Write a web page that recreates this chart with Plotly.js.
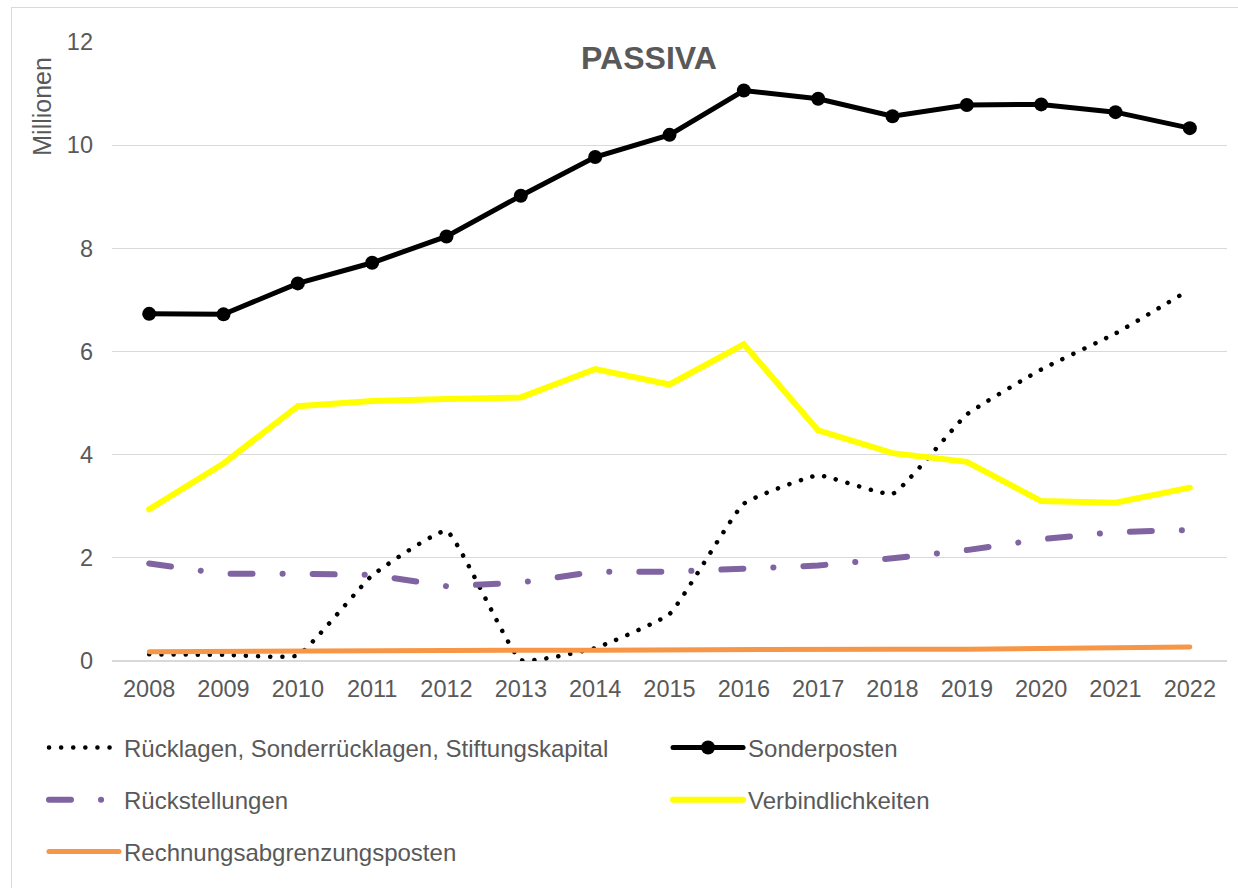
<!DOCTYPE html>
<html>
<head>
<meta charset="utf-8">
<script src="https://cdn.plot.ly/plotly-3.0.1.min.js"></script>
<style>
  html, body { margin: 0; padding: 0; background: #fff; overflow: hidden; }
  #wrap { position: relative; width: 1238px; height: 888px; }
  #frame { position: absolute; left: 11px; top: 7px; width: 1400px; height: 1000px;
           border-left: 1px solid #d9d9d9; border-top: 1px solid #d9d9d9; }
  #chart { position: absolute; left: 0; top: 0; width: 1238px; height: 888px; }
  .js-line { stroke-linecap: round; }
</style>
</head>
<body>
<div id="wrap"><div id="frame"></div><div id="chart"></div></div>
<script>
const years = ['2008','2009','2010','2011','2012','2013','2014','2015','2016','2017','2018','2019','2020','2021','2022'];
const seriesNames = ['Rücklagen, Sonderrücklagen, Stiftungskapital','Sonderposten','Rückstellungen','Verbindlichkeiten','Rechnungsabgrenzungsposten'];
const ruecklagen = [0.13, 0.12, 0.11, 1.66, 2.52, 0.02, 0.25, 0.91, 3.05, 3.60, 3.24, 4.78, 5.65, 6.35, 7.20];
const sonderposten = [6.73, 6.72, 7.32, 7.72, 8.23, 9.02, 9.77, 10.20, 11.06, 10.90, 10.56, 10.78, 10.79, 10.64, 10.33];
const rueckstellungen = [1.89, 1.69, 1.69, 1.67, 1.45, 1.52, 1.73, 1.73, 1.79, 1.85, 1.99, 2.15, 2.36, 2.50, 2.54];
const verbindlichkeiten = [2.94, 3.83, 4.94, 5.04, 5.08, 5.11, 5.66, 5.36, 6.14, 4.47, 4.03, 3.86, 3.10, 3.07, 3.36];
const rap = [0.18, 0.19, 0.19, 0.20, 0.20, 0.21, 0.21, 0.22, 0.22, 0.23, 0.23, 0.23, 0.24, 0.25, 0.27];
const yTicks = [0, 2, 4, 6, 8, 10, 12];

const FONT = '"Liberation Sans", Arial, sans-serif';
const GREY = '#595959';

const traces = [
  {x: years, y: ruecklagen, name: seriesNames[0], type: 'scatter', mode: 'lines', legend: 'legend',
   line: {color: '#000000', width: 4.5, dash: '0.1px,12px', shape: 'spline', smoothing: 0.35}},
  {x: years, y: sonderposten, name: seriesNames[1], type: 'scatter', mode: 'lines+markers', legend: 'legend2',
   line: {color: '#000000', width: 5}, marker: {color: '#000000', size: 14}},
  {x: years, y: rueckstellungen, name: seriesNames[2], type: 'scatter', mode: 'lines', legend: 'legend3',
   line: {color: '#8064A2', width: 6, dash: '22px,30px,0.1px,30px'}},
  {x: years, y: verbindlichkeiten, name: seriesNames[3], type: 'scatter', mode: 'lines', legend: 'legend4',
   line: {color: '#FFFF00', width: 6}},
  {x: years, y: rap, name: seriesNames[4], type: 'scatter', mode: 'lines', legend: 'legend5',
   line: {color: '#F79646', width: 5}}
];

const legendBase = {
  orientation: 'h', xanchor: 'left', yanchor: 'middle',
  font: {family: FONT, size: 24, color: GREY},
  bgcolor: 'rgba(0,0,0,0)', itemwidth: 70,
  itemclick: false, itemdoubleclick: false
};
const col1 = -0.061, col2 = 0.4987;
const row1 = -0.1405, row2 = -0.2246, row3 = -0.3086;

const layout = {
  width: 1238, height: 888,
  margin: {l: 112, r: 11, t: 42, b: 227},
  paper_bgcolor: 'rgba(0,0,0,0)', plot_bgcolor: 'rgba(0,0,0,0)',
  font: {family: FONT, color: GREY},
  title: {text: '<b>PASSIVA</b>', font: {family: FONT, size: 32, color: GREY},
          x: 0.4816, xanchor: 'center', xref: 'paper', y: 0.975, yref: 'paper', yanchor: 'middle'},
  xaxis: {type: 'category', range: [-0.5, 14.5], showgrid: false, zeroline: false,
          showline: false, ticks: '', tickfont: {family: FONT, size: 23.5, color: GREY},
          ticklabelstandoff: 11, fixedrange: true},
  yaxis: {range: [0, 12], tickvals: yTicks, gridcolor: '#d9d9d9', gridwidth: 1.3,
          zeroline: true, zerolinecolor: '#d9d9d9', zerolinewidth: 1.3, showline: false, ticks: '',
          tickfont: {family: FONT, size: 23.5, color: GREY}, ticklabelstandoff: 18, fixedrange: true},
  annotations: [
    {text: 'Millionen', xref: 'paper', yref: 'paper', x: -0.0628, y: 0.897, textangle: -90,
     showarrow: false, xanchor: 'center', yanchor: 'middle', font: {family: FONT, size: 25, color: GREY}}
  ],
  legend: Object.assign({}, legendBase, {x: col1, y: row1}),
  legend2: Object.assign({}, legendBase, {x: col2, y: row1}),
  legend3: Object.assign({}, legendBase, {x: col1, y: row2}),
  legend4: Object.assign({}, legendBase, {x: col2, y: row2}),
  legend5: Object.assign({}, legendBase, {x: col1, y: row3}),
  showlegend: true
};

Plotly.newPlot('chart', traces, layout, {staticPlot: true, displayModeBar: false});
</script>
</body>
</html>
